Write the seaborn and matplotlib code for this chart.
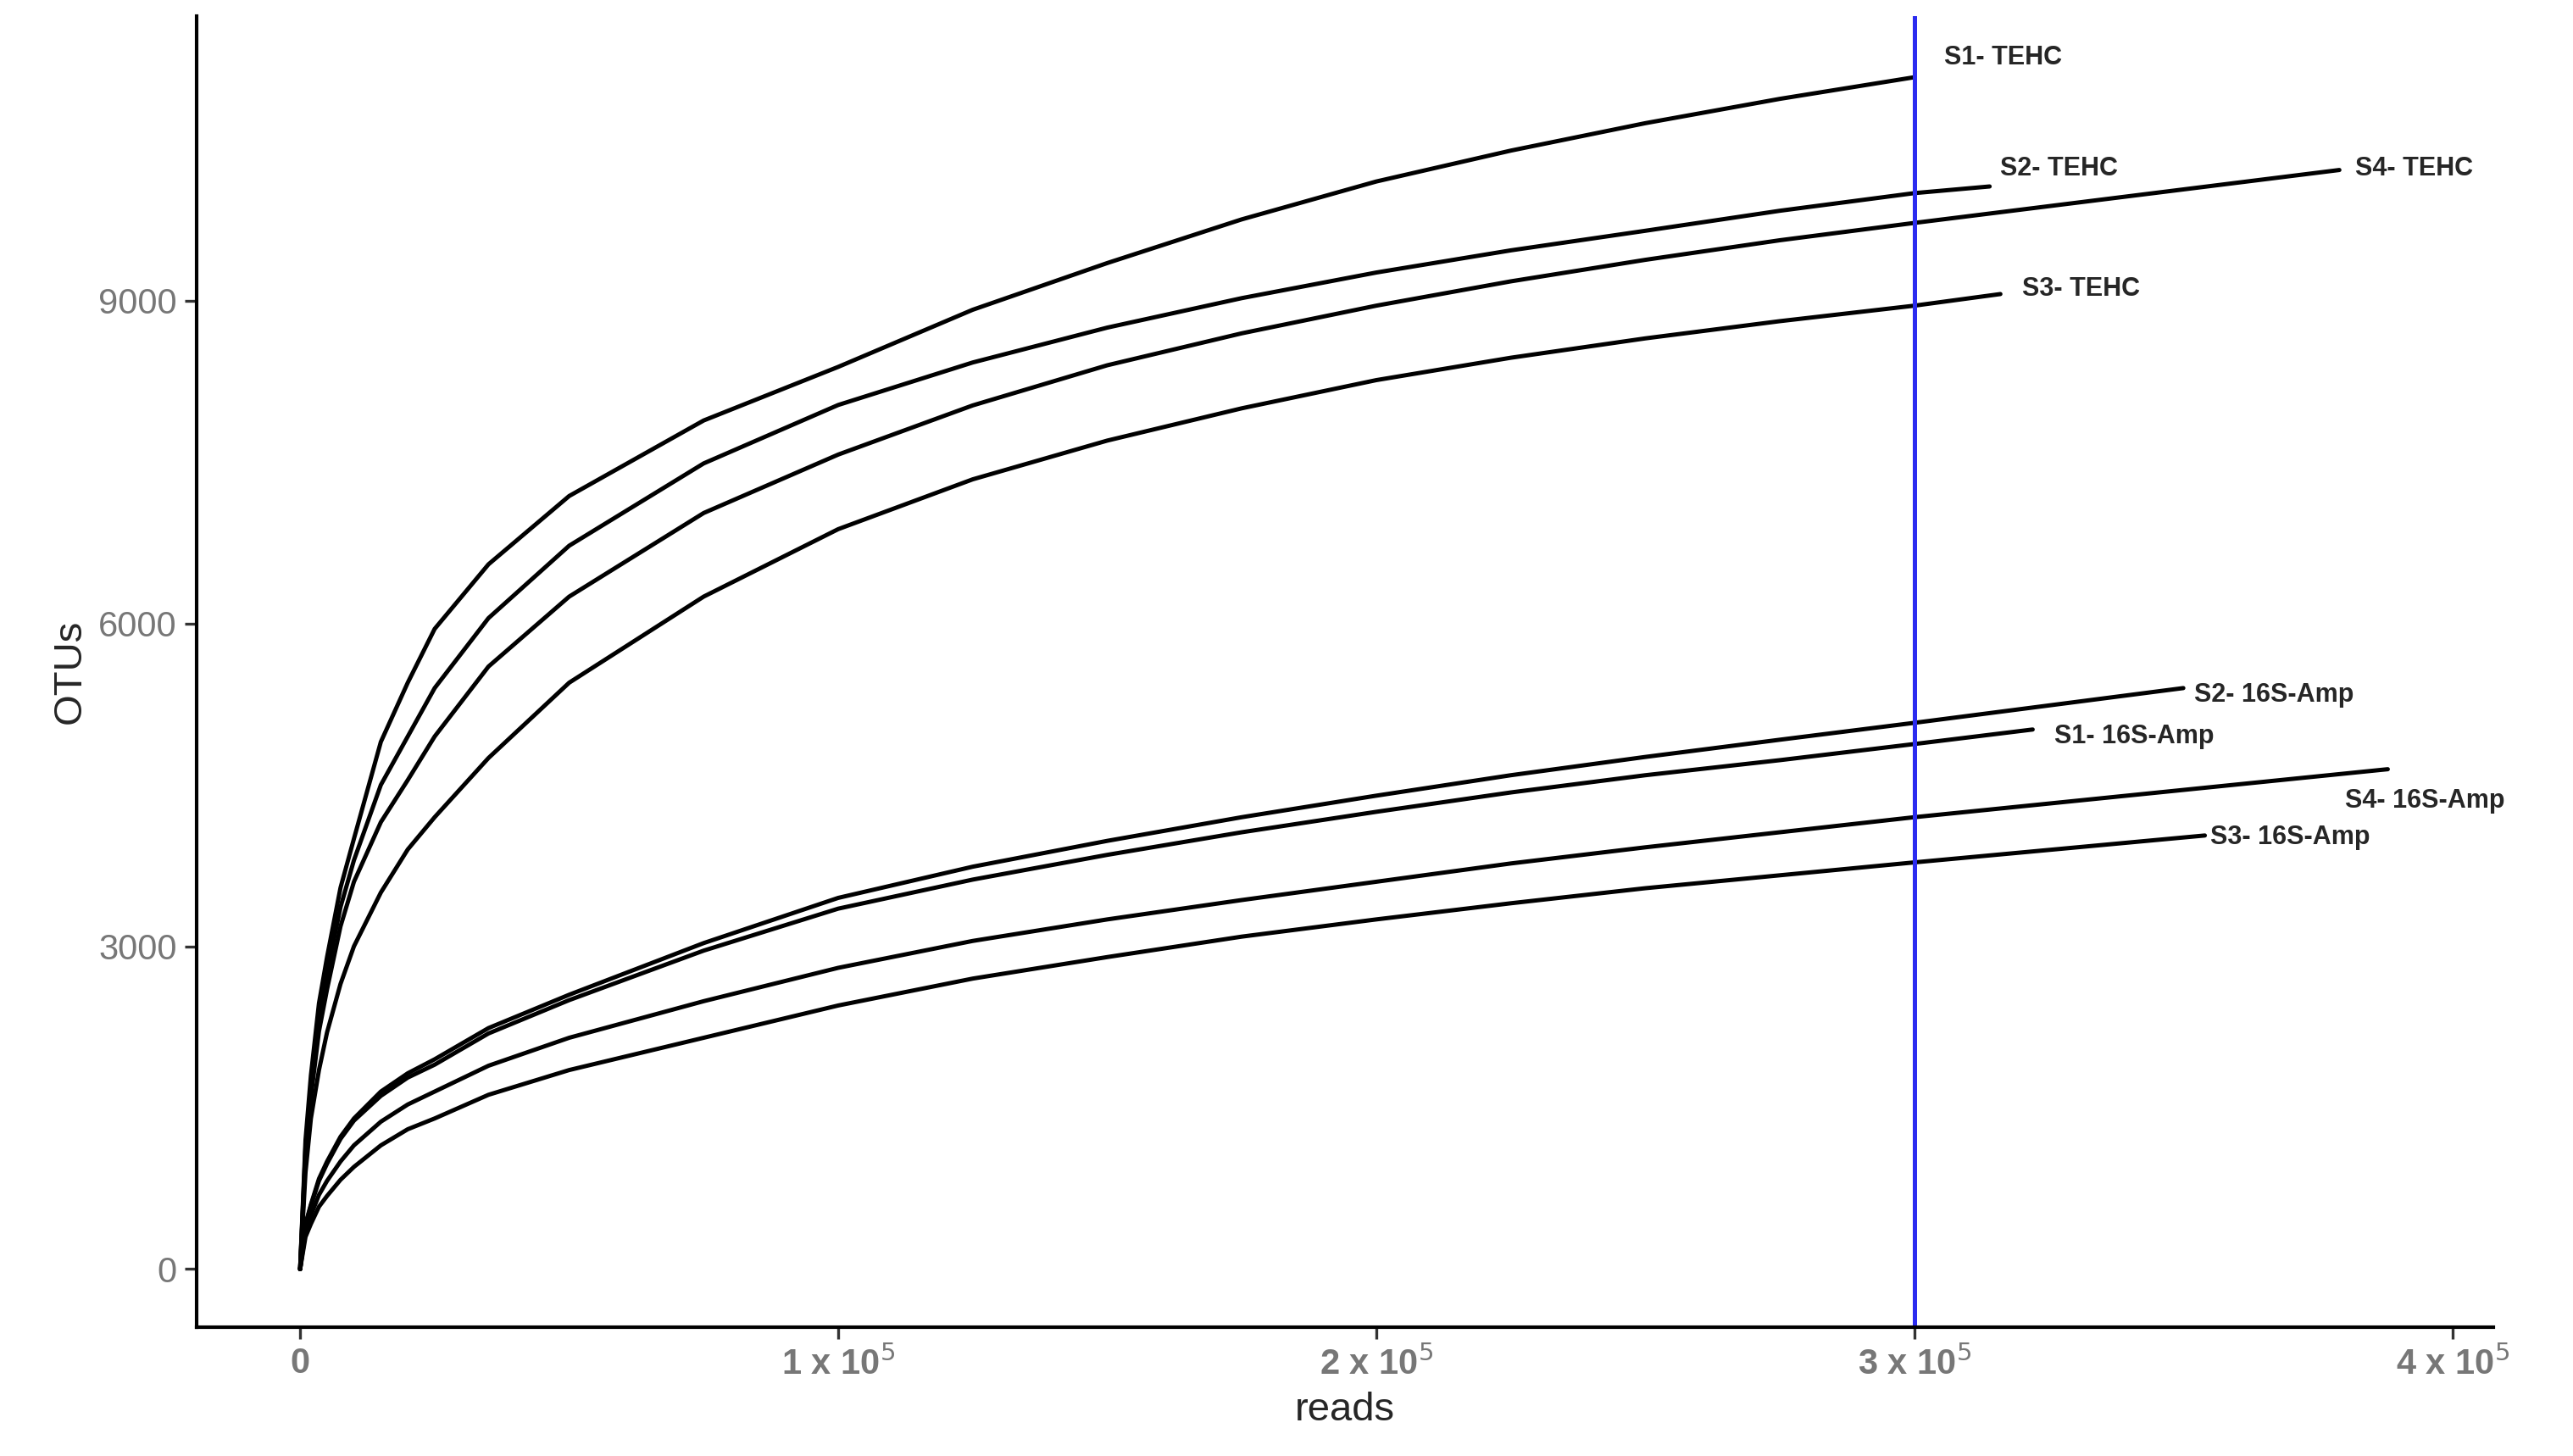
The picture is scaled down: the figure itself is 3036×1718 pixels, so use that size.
import matplotlib
matplotlib.use("Agg")
import matplotlib.pyplot as plt
import pandas as pd
import seaborn as sns

READS = [0, 1000, 2000, 3500, 5000, 7500, 10000, 15000, 20000, 25000, 35000, 50000,
         75000, 100000, 125000, 150000, 175000, 200000, 225000, 250000, 275000, 300000]

S1_TEHC = [0, 1200, 1800, 2471, 2900, 3544, 4000, 4900, 5450, 5950, 6550, 7185, 7887,
           8385, 8916, 9350, 9756, 10108, 10395, 10650, 10876, 11077]
S2_TEHC = [0, 1130, 1700, 2341, 2750, 3364, 3800, 4500, 4950, 5400, 6050, 6723, 7488,
           8031, 8426, 8750, 9024, 9262, 9468, 9650, 9836, 10000, 10062]
S4_TEHC = [0, 1060, 1600, 2210, 2600, 3185, 3600, 4154, 4545, 4950, 5600, 6250, 7027,
           7570, 8027, 8400, 8697, 8954, 9180, 9380, 9562, 9723, 10215]
S3_TEHC = [0, 900, 1400, 1850, 2200, 2650, 3000, 3500, 3900, 4200, 4750, 5450, 6250,
           6877, 7340, 7700, 8000, 8262, 8470, 8650, 8810, 8954, 9062]
S2_AMP = [0, 420, 600, 840, 1000, 1230, 1400, 1650, 1820, 1950, 2240, 2550, 3030,
          3450, 3740, 3980, 4200, 4400, 4590, 4760, 4920, 5077, 5400]
S1_AMP = [0, 410, 590, 820, 980, 1210, 1380, 1610, 1780, 1900, 2190, 2500, 2960,
          3350, 3620, 3850, 4060, 4250, 4430, 4590, 4730, 4880, 5015]
S4_AMP = [0, 350, 500, 690, 820, 1000, 1150, 1370, 1530, 1650, 1890, 2150, 2490,
          2800, 3050, 3250, 3430, 3600, 3770, 3920, 4060, 4200, 4646]
S3_AMP = [0, 300, 420, 580, 680, 830, 950, 1150, 1300, 1400, 1620, 1850, 2150,
          2450, 2700, 2900, 3090, 3250, 3400, 3540, 3660, 3780, 4030]

CURVES = {
    "S1- TEHC": (READS, S1_TEHC),
    "S2- TEHC": (READS + [314000], S2_TEHC),
    "S4- TEHC": (READS + [379000], S4_TEHC),
    "S3- TEHC": (READS + [316000], S3_TEHC),
    "S2- 16S-Amp": (READS + [350000], S2_AMP),
    "S1- 16S-Amp": (READS + [322000], S1_AMP),
    "S4- 16S-Amp": (READS + [388000], S4_AMP),
    "S3- 16S-Amp": (READS + [354000], S3_AMP),
}

LABEL_POS = {
    "S1- TEHC": (305500, 11262),
    "S2- TEHC": (316000, 10230),
    "S4- TEHC": (382000, 10230),
    "S3- TEHC": (320000, 9108),
    "S2- 16S-Amp": (352000, 5338),
    "S1- 16S-Amp": (326000, 4954),
    "S4- 16S-Amp": (380000, 4354),
    "S3- 16S-Amp": (355000, 4015),
}

CUTOFF = 300000

rows = []
for name, (xs, ys) in CURVES.items():
    for x, y in zip(xs, ys):
        rows.append({"sample": name, "reads": x, "OTUs": y})
df = pd.DataFrame(rows)

sns.set_theme(style="white")
plt.rcParams["font.family"] = ["Liberation Sans", "DejaVu Sans"]

fig = plt.figure(figsize=(15.18, 8.59), dpi=200)
ax = fig.add_axes([0.0765, 0.0886, 0.8925, 0.9004])

sns.lineplot(data=df, x="reads", y="OTUs", units="sample", estimator=None,
             color="black", linewidth=1.8, sort=True, ax=ax)

ax.axvline(CUTOFF, color="#2B2BF0", linewidth=1.8)

for name, (lx, ly) in LABEL_POS.items():
    ax.text(lx, ly, name, fontsize=11, fontweight="bold", va="center", ha="left")

ax.set_xlim(-19200, 407600)
ax.set_ylim(-538, 11646)
ax.set_xticks([0, 100000, 200000, 300000, 400000])
ax.set_xticklabels(["0", r"1 x 10$^5$", r"2 x 10$^5$", r"3 x 10$^5$", r"4 x 10$^5$"],
                   fontsize=15, fontweight="bold", color="#777777")
ax.set_yticks([0, 3000, 6000, 9000])
ax.set_yticklabels(["0", "3000", "6000", "9000"], fontsize=15, color="#777777")
ax.tick_params(axis="both", length=5, width=1.2, color="#333333", bottom=True, left=True)
ax.set_xlabel("reads", fontsize=17)
ax.set_ylabel("OTUs", fontsize=17)
for side in ["top", "right"]:
    ax.spines[side].set_visible(False)
for side in ["left", "bottom"]:
    ax.spines[side].set_color("black")
    ax.spines[side].set_linewidth(1.5)

fig.savefig("out.png", dpi=200, facecolor="white")
